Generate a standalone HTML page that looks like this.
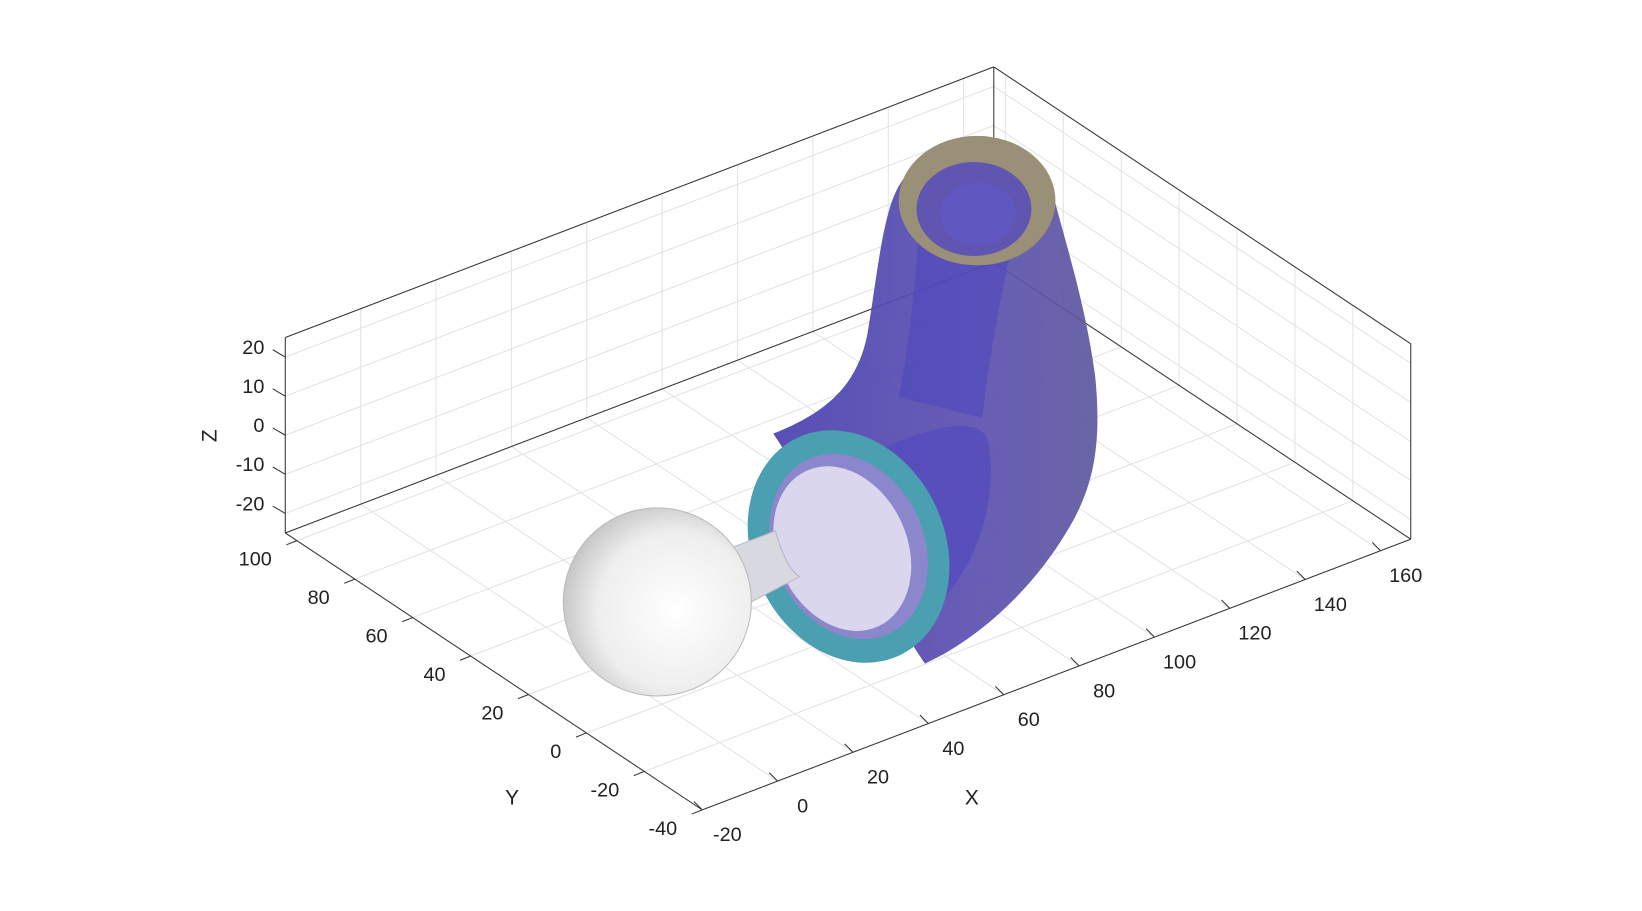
<!DOCTYPE html>
<html><head><meta charset="utf-8"><style>
html,body{margin:0;padding:0;background:#fff;}
svg{display:block;font-family:"Liberation Sans","DejaVu Sans",sans-serif;}
</style></head><body>
<svg id="chart" width="1642" height="911" viewBox="0 0 1642 911">
<defs>
<radialGradient id="sph" cx="0.6" cy="0.55" r="0.6">
<stop offset="0" stop-color="#ffffff"/><stop offset="0.7" stop-color="#eeeeee"/><stop offset="1" stop-color="#c8c8c8"/>
</radialGradient>
<linearGradient id="body" x1="0" y1="0" x2="1" y2="0">
<stop offset="0" stop-color="#4a3fb0"/><stop offset="0.6" stop-color="#5a4fb0"/><stop offset="1" stop-color="#5e579e"/>
</linearGradient>
</defs>
<g transform="scale(1.045)">
<g id="grid"></g>
<g id="box"></g>
<g id="shapes">
<path d="M740,415 C790,395 820,370 830,320 C840,260 845,200 862,175 C880,140 990,135 1010,195 C1025,250 1040,300 1048,360 C1055,430 1045,470 1020,510 C990,560 940,610 885,635 Z" fill="url(#body)" opacity="0.92"/>
<path d="M880,200 C878,260 870,330 860,380 L940,400 C945,350 958,280 975,205 Z" fill="#4d45c0" opacity="0.55"/>
<path d="M800,450 C860,420 930,390 945,420 C955,470 940,530 905,570 L850,560 Z" fill="#5046c0" opacity="0.6"/>
<ellipse cx="935" cy="192" rx="75" ry="62" fill="#9a9078"/>
<ellipse cx="932" cy="200" rx="55" ry="45" fill="#5a50b8" opacity="0.9"/>
<ellipse cx="936" cy="205" rx="36" ry="30" fill="#6058c0"/>
<ellipse cx="812" cy="523" rx="92" ry="115" transform="rotate(-25 812 523)" fill="#4a9fb0"/>
<ellipse cx="812" cy="523" rx="72" ry="92" transform="rotate(-25 812 523)" fill="#8c86cc"/>
<ellipse cx="806" cy="525" rx="62" ry="82" transform="rotate(-25 806 525)" fill="#d9d6ee"/>
<path d="M690,528 L742,508 C748,530 755,545 765,552 L715,578 Z" fill="#d8d8e0" stroke="#b8b8c0"/>
<circle cx="629" cy="576" r="90" fill="url(#sph)" stroke="#bbbbbb"/>
</g>
<g id="labels" font-size="19" fill="#222"></g>
<text x="930" y="770" font-size="20" fill="#222" text-anchor="middle">X</text>
<text x="490" y="770" font-size="20" fill="#222" text-anchor="middle">Y</text>
<text x="207" y="417" font-size="20" fill="#222" text-anchor="middle" transform="rotate(-90 207 417)">Z</text>
</g>
</svg>
<script>
const xTicks=[-20,0,20,40,60,80,100,120,140,160];
const yTicks=[-40,-20,0,20,40,60,80,100];
const zTicks=[-20,-10,0,10,20];
const xRange=[-20,168], yRange=[-40,104], zRange=[-25,25];
const NS='http://www.w3.org/2000/svg';
const O=[672,775], EX=[678,-259], EY=[-399,-265], EZ=[0,-187];
function P(x,y,z){
 const a=(x-xRange[0])/(xRange[1]-xRange[0]), b=(y-yRange[0])/(yRange[1]-yRange[0]), c=(z-zRange[0])/(zRange[1]-zRange[0]);
 return [O[0]+a*EX[0]+b*EY[0]+c*EZ[0], O[1]+a*EX[1]+b*EY[1]+c*EZ[1]];
}
function line(g,p,q,col,w,name){
 const l=document.createElementNS(NS,'line');
 l.setAttribute('x1',p[0]);l.setAttribute('y1',p[1]);l.setAttribute('x2',q[0]);l.setAttribute('y2',q[1]);
 l.setAttribute('stroke',col);l.setAttribute('stroke-width',w);
 
 
 g.appendChild(l);
}
function txt(g,p,s,anchor,name){
 const t=document.createElementNS(NS,'text');
 t.setAttribute('x',p[0]);t.setAttribute('y',p[1]);t.setAttribute('text-anchor',anchor);
 t.textContent=s;
 
 
 g.appendChild(t);
}
const G=document.getElementById('grid'), B=document.getElementById('box'), L=document.getElementById('labels');
const gc='#e3e3e3';
const [x0,x1]=xRange,[y0,y1]=yRange,[z0,z1]=zRange;
xTicks.forEach(x=>{ if(x>x0&&x<x1){ line(G,P(x,y0,z0),P(x,y1,z0),gc,1,'x-grid-floor'); line(G,P(x,y1,z0),P(x,y1,z1),gc,1,'x-grid-wall'); }});
yTicks.forEach(y=>{ if(y>y0&&y<y1){ line(G,P(x0,y,z0),P(x1,y,z0),gc,1,'y-grid-floor'); line(G,P(x1,y,z0),P(x1,y,z1),gc,1,'y-grid-wall'); }});
zTicks.forEach(z=>{ line(G,P(x0,y1,z),P(x1,y1,z),gc,1,'z-grid-back'); line(G,P(x1,y0,z),P(x1,y1,z),gc,1,'z-grid-right'); });
const bc='#333';
line(B,P(x0,y0,z0),P(x1,y0,z0),bc,1,'x-axis-line');
line(B,P(x0,y0,z0),P(x0,y1,z0),bc,1,'y-axis-line');
line(B,P(x0,y1,z0),P(x0,y1,z1),bc,1,'z-axis-line');
line(B,P(x0,y1,z0),P(x1,y1,z0),bc,1,'box-edge');
line(B,P(x1,y1,z0),P(x1,y0,z0),bc,1,'box-edge');
line(B,P(x0,y1,z1),P(x1,y1,z1),bc,1,'box-edge');
line(B,P(x1,y1,z1),P(x1,y0,z1),bc,1,'box-edge');
line(B,P(x1,y1,z0),P(x1,y1,z1),bc,1,'box-edge');
line(B,P(x1,y0,z0),P(x1,y0,z1),bc,1,'box-edge');
xTicks.forEach(x=>{ const p=P(x,y0,z0); line(B,p,[p[0]-8,p[1]-8],bc,1,'x-tick'); txt(L,[p[0]+24,p[1]+30],String(x),'middle','x-tick-label'); });
yTicks.forEach(y=>{ const p=P(x0,y,z0); line(B,p,[p[0]-10,p[1]+4],bc,1,'y-tick'); txt(L,[p[0]-24,p[1]+24],String(y),'end','y-tick-label'); });
zTicks.forEach(z=>{ const p=P(x0,y1,z); line(B,p,[p[0]-12,p[1]-7],bc,1,'z-tick'); txt(L,[p[0]-20,p[1]-3],String(z),'end','z-tick-label'); });
</script>
</body></html>
